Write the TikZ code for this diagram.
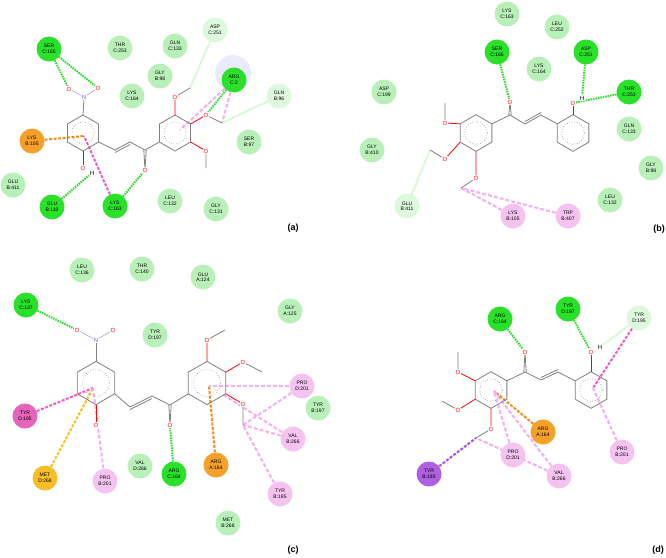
\documentclass[tikz,border=0pt]{standalone}
\usepackage{fontspec}
\setmainfont{Liberation Sans}
\pgfdeclarelayer{bg}
\pgfsetlayers{bg,main}
\begin{document}
\begin{tikzpicture}[x=1pt,y=-1pt,
 res/.style={circle,minimum size=25pt,inner sep=0pt,align=center,font=\fontsize{5}{5.5}\selectfont},
 dg/.style={res,fill={rgb,255:red,40;green,225;blue,40}},
 lg/.style={res,fill={rgb,255:red,185;green,240;blue,185}},
 pg/.style={res,fill={rgb,255:red,222;green,248;blue,222}},
 og/.style={res,fill={rgb,255:red,245;green,160;blue,40}},
 pk/.style={res,fill={rgb,255:red,245;green,195;blue,240}},
 mg/.style={res,fill={rgb,255:red,230;green,100;blue,185}},
 yl/.style={res,fill={rgb,255:red,245;green,190;blue,40}},
 pu/.style={res,fill={rgb,255:red,175;green,95;blue,225}},
 bond/.style={draw=gray,line width=0.8pt},
 obond/.style={draw=red,line width=0.8pt},
 arom/.style={draw=gray,dotted,line width=0.6pt},
 cg/.style={draw={rgb,255:red,40;green,220;blue,40},line width=2pt,dash pattern=on 1.5pt off 1pt},
 cpg/.style={draw={rgb,255:red,200;green,245;blue,200},line width=2pt,dash pattern=on 1.5pt off 1pt},
 cp/.style={draw={rgb,255:red,245;green,175;blue,240},line width=2pt,dash pattern=on 4pt off 2pt},
 cmg/.style={draw={rgb,255:red,240;green,90;blue,200},line width=2pt,dash pattern=on 3pt off 1.5pt},
 co/.style={draw={rgb,255:red,245;green,140;blue,20},line width=2pt,dash pattern=on 3pt off 1.5pt},
 cy/.style={draw={rgb,255:red,250;green,190;blue,30},line width=2pt,dash pattern=on 3pt off 1.5pt},
 cpu/.style={draw={rgb,255:red,170;green,80;blue,225},line width=2pt,dash pattern=on 3pt off 1.5pt},
 atm/.style={font=\fontsize{6}{6}\selectfont,inner sep=0.5pt,fill=white},
 lab/.style={font=\bfseries\fontsize{9}{9}\selectfont}]
\useasboundingbox (0,0) rectangle (666,557);
\newcommand\hexring[3]{%
 \draw[bond] (#1)++(-90:#2) coordinate(#3t) -- ++(30:#2) coordinate(#3ur) -- ++(90:#2) coordinate(#3lr) -- ++(150:#2) coordinate(#3b) -- ++(-150:#2) coordinate(#3ll) -- ++(-90:#2) coordinate(#3ul) -- cycle;
 \draw[arom] (#1) circle (#2*0.62);}
%%%%%%%%%%%%%%%% (a)
\begin{pgfonlayer}{bg}\fill[blue!8] (233,73) circle (18);\end{pgfonlayer}
\coordinate (aA) at (83,133);
\coordinate (aB) at (175,133);
\hexring{aA}{18}{aA}
\hexring{aB}{18}{aB}
\node[atm,text=blue!60] (aN) at (84,97) {N};
\node[atm,text=red] (aO1) at (69,89) {O};
\node[atm,text=red] (aO2) at (98,88) {O};
\draw[bond] (aAt) -- (aN); \draw[draw=blue!50] (aN)--(aO1) (aN)--(aO2);
\node[atm,text=red] (aOH) at (83,168) {O};
\node[atm] (aH) at (92,173) {H};
\draw[obond] (aAb) -- (aOH);
\coordinate (ac1) at (115,150); \coordinate (ac2) at (130,142); \coordinate (ac3) at (145,150);
\draw[bond] (aAlr)--(ac1)--(ac2)--(ac3)--(aBll);
\draw[bond] ([yshift=-2.5pt]ac1)--([yshift=-2.5pt]ac2);
\node[atm,text=red] (aOc) at (145,170) {O};
\draw[bond] ([xshift=-1.2pt]ac3)--([xshift=-1.2pt]aOc) ([xshift=1.2pt]ac3)--([xshift=1.2pt]aOc);
\node[atm,text=red] (aO3) at (175,97) {O}; \coordinate (aM3) at (190,88);
\node[atm,text=red] (aO4) at (206,115) {O}; \coordinate (aM4) at (222,123);
\node[atm,text=red] (aO5) at (206,151) {O}; \coordinate (aM5) at (206,168);
\draw[obond] (aBt)--(aO3) (aBur)--(aO4) (aBlr)--(aO5);
\draw[bond] (aO3)--(aM3) (aO4)--(aM4) (aO5)--(aM5);
\coordinate (aR1) at (84,136); \coordinate (aR2) at (180,130);
\node[dg] (a1) at (49,49) {SER\\C:165};
\node[lg] (a2) at (120,48) {THR\\C:253};
\node[lg] (a3) at (175,46) {GLN\\C:133};
\node[pg] (a4) at (215,30) {ASP\\C:251};
\node[lg] (a5) at (160,76) {GLY\\B:98};
\node[dg] (a6) at (234,80) {ARG\\C:2};
\node[lg] (a7) at (132,96) {LYS\\C:164};
\node[pg] (a8) at (279,96) {GLN\\B:96};
\node[lg] (a9) at (249,142) {SER\\B:97};
\node[og] (a10) at (32,141) {LYS\\B:105};
\node[lg] (a11) at (13,185) {GLU\\B:411};
\node[dg] (a12) at (52,207) {GLU\\B:110};
\node[dg] (a13) at (115,206) {LYS\\C:163};
\node[lg] (a14) at (170,201) {LEU\\C:132};
\node[lg] (a15) at (216,209) {GLY\\C:131};
\begin{pgfonlayer}{bg}
\draw[cg] (a1)--(aO1); \draw[cg] (a1)--(aO2);
\draw[co] (a10)--(aR1);
\draw[cmg] (a13)--(aR1);
\draw[cg] (a13)--(aOc);
\draw[cg] (a12)--(aH);
\draw[cpg] (a4)--(aM3);
\draw[cg] (a6)--(aO4);
\draw[cp] (a6)--(aR2); \draw[cp] (a6)--(aM4);
\draw[cpg] (a8)--(aM4);
\end{pgfonlayer}
\node[lab] at (293,228) {(a)};
%%%%%%%%%%%%%%%% (b)
\coordinate (bA) at (476,133);
\coordinate (bB) at (573,133);
\hexring{bA}{18.3}{bA}
\hexring{bB}{18.3}{bB}
\node[atm,text=red] (bO1) at (445,123) {O}; \coordinate (bM1) at (445,103);
\node[atm,text=red] (bO2) at (445,159) {O}; \coordinate (bM2) at (430,150);
\node[atm,text=red] (bO3) at (476,178) {O}; \coordinate (bM3) at (461,188);
\draw[obond] (bAul)--(bO1) (bAll)--(bO2) (bAb)--(bO3);
\draw[bond] (bO1)--(bM1) (bO2)--(bM2) (bO3)--(bM3);
\coordinate (bc1) at (510,115); \coordinate (bc2) at (525,124); \coordinate (bc3) at (541,115);
\draw[bond] (bAur)--(bc1)--(bc2)--(bc3)--(bBul);
\draw[bond] ([yshift=2.5pt]bc2)--([yshift=2.5pt]bc3);
\node[atm,text=red] (bOc) at (510,102) {O};
\draw[bond] ([xshift=-1.2pt]bc1)--([xshift=-1.2pt]bOc) ([xshift=1.2pt]bc1)--([xshift=1.2pt]bOc);
\node[atm,text=red] (bOH) at (573,103) {O};
\node[atm] (bH) at (582,98) {H};
\draw[obond] (bBt)--(bOH);
\node[lg] (b1) at (507,14) {LYS\\C:163};
\node[lg] (b2) at (557,27) {LEU\\C:252};
\node[dg] (b3) at (497,52) {SER\\C:165};
\node[dg] (b4) at (586,52) {ASP\\C:251};
\node[lg] (b5) at (539,69) {LYS\\C:164};
\node[lg] (b6) at (384,92) {ASP\\C:199};
\node[dg] (b7) at (629,92) {THR\\C:253};
\node[lg] (b8) at (629,129) {GLN\\C:133};
\node[lg] (b9) at (372,150) {GLY\\B:410};
\node[lg] (b10) at (651,168) {GLY\\B:98};
\node[lg] (b11) at (610,200) {LEU\\C:132};
\node[pg] (b12) at (407,206) {GLU\\B:411};
\node[pk] (b13) at (513,216) {LYS\\B:105};
\node[pk] (b14) at (568,216) {TRP\\B:407};
\begin{pgfonlayer}{bg}
\draw[cg] (b3)--(bOc);
\draw[cg] (b4)--(bH);
\draw[cg] (b7)--(bOH);
\draw[cpg] (b12)--(bM2);
\draw[cp] (b13)--(bM3); \draw[cp] (b14)--(bM3);
\end{pgfonlayer}
\node[lab] at (659,229) {(b)};
%%%%%%%%%%%%%%%% (c)
\coordinate (cA) at (96,383);
\coordinate (cB) at (207,383);
\hexring{cA}{21.6}{cA}
\hexring{cB}{21.6}{cB}
\node[atm,text=blue!60] (cN) at (96,340) {N};
\node[atm,text=red] (cO1) at (77,330) {O};
\node[atm,text=red] (cO2) at (113,330) {O};
\draw[bond] (cAt)--(cN); \draw[draw=blue!50] (cN)--(cO1) (cN)--(cO2);
\node[atm,text=red] (cOH) at (96,425) {O};
\draw[obond] (cAb)--(cOH);
\coordinate (cc1) at (130,407); \coordinate (cc2) at (152,396); \coordinate (cc3) at (170,405);
\draw[bond] (cAlr)--(cc1)--(cc2)--(cc3)--(cBll);
\draw[bond] ([yshift=-2.5pt]cc1)--([yshift=-2.5pt]cc2);
\node[atm,text=red] (cOc) at (170,425) {O};
\draw[bond] ([xshift=-1.2pt]cc3)--([xshift=-1.2pt]cOc) ([xshift=1.2pt]cc3)--([xshift=1.2pt]cOc);
\node[atm,text=red] (cO3) at (207,340) {O}; \coordinate (cM3) at (225,330);
\node[atm,text=red] (cO4) at (243,362) {O}; \coordinate (cM4) at (262,372);
\node[atm,text=red] (cO5) at (243,404) {O}; \coordinate (cM5) at (243,425);
\draw[obond] (cBt)--(cO3) (cBur)--(cO4) (cBlr)--(cO5);
\draw[bond] (cO3)--(cM3) (cO4)--(cM4) (cO5)--(cM5);
\coordinate (cR1) at (93,388); \coordinate (cR2) at (209,386); \coordinate (cR3) at (222,394);
\node[lg] (c1) at (82,270) {LEU\\C:136};
\node[lg] (c2) at (142,269) {THR\\C:140};
\node[lg] (c3) at (203,277) {GLU\\A:124};
\node[dg] (c4) at (26,305) {LYS\\C:137};
\node[lg] (c5) at (290,311) {GLY\\A:125};
\node[lg] (c6) at (155,335) {TYR\\D:197};
\node[lg] (c7) at (318,408) {TYR\\B:197};
\node[pk] (c8) at (302,386) {PRO\\D:201};
\node[mg] (c9) at (25,416) {TYR\\D:195};
\node[pk] (c10) at (293,439) {VAL\\B:266};
\node[lg] (c11) at (140,466) {VAL\\D:266};
\node[dg] (c12) at (174,474) {ARG\\C:164};
\node[og] (c13) at (216,465) {ARG\\A:164};
\node[yl] (c14) at (45,478) {MET\\D:268};
\node[pk] (c15) at (105,481) {PRO\\B:201};
\node[pk] (c16) at (280,494) {TYR\\B:195};
\node[lg] (c17) at (228,523) {MET\\B:268};
\begin{pgfonlayer}{bg}
\draw[cg] (c4)--(cO1);
\draw[cmg] (c9)--(cR1);
\draw[cy] (c14)--(cR1);
\draw[cp] (c15)--(cR1);
\draw[cg] (c12)--(cOc);
\draw[co] (c13)--(cR2);
\draw[cp] (c8)--(cR2); \draw[cp] (c8)--(cM5);
\draw[cp] (c10)--(cR3); \draw[cp] (c10)--(cM5);
\draw[cp] (c16)--(cM5);
\end{pgfonlayer}
\node[lab] at (293,550) {(c)};
%%%%%%%%%%%%%%%% (d)
\coordinate (dA) at (491,390);
\coordinate (dB) at (591,390);
\hexring{dA}{18.3}{dA}
\hexring{dB}{18.3}{dB}
\node[atm,text=red] (dO1) at (458,372) {O}; \coordinate (dM1) at (458,352);
\node[atm,text=red] (dO2) at (458,410) {O}; \coordinate (dM2) at (442,401);
\node[atm,text=red] (dO3) at (491,429) {O}; \coordinate (dM3) at (476,438);
\draw[obond] (dAul)--(dO1) (dAll)--(dO2) (dAb)--(dO3);
\draw[bond] (dO1)--(dM1) (dO2)--(dM2) (dO3)--(dM3);
\coordinate (dc1) at (525,372); \coordinate (dc2) at (541,380); \coordinate (dc3) at (558,372);
\draw[bond] (dAur)--(dc1)--(dc2)--(dc3)--(dBul);
\draw[bond] ([yshift=2.5pt]dc2)--([yshift=2.5pt]dc3);
\node[atm,text=red] (dOc) at (525,352) {O};
\draw[bond] ([xshift=-1.2pt]dc1)--([xshift=-1.2pt]dOc) ([xshift=1.2pt]dc1)--([xshift=1.2pt]dOc);
\node[atm,text=red] (dOH) at (591,352) {O};
\node[atm] (dH) at (600,347) {H};
\draw[obond] (dBt)--(dOH);
\coordinate (dR1) at (494,391); \coordinate (dR2) at (593,388);
\node[dg] (d1) at (500,319) {ARG\\C:164};
\node[dg] (d2) at (568,309) {TYR\\D:197};
\node[pg] (d3) at (639,318) {TYR\\D:195};
\node[og] (d4) at (543,432) {ARG\\A:164};
\node[pk] (d5) at (622,452) {PRO\\B:201};
\node[pk] (d6) at (513,455) {PRO\\D:201};
\node[pk] (d7) at (559,476) {VAL\\B:266};
\node[pu] (d8) at (429,474) {TYR\\B:195};
\begin{pgfonlayer}{bg}
\draw[cg] (d1)--(dOc);
\draw[cg] (d2)--(dOH);
\draw[cpg] (d3)--(dH);
\draw[cmg] (d3)--(dR2);
\draw[co] (d4)--(dR1);
\draw[cp] (d6)--(dR1);
\draw[cp] (d7)--(dR1); \draw[cp] (d7)--(dM3);
\draw[cpu] (d8)--(dM3);
\draw[cp] (d5)--(dR2);
\end{pgfonlayer}
\node[lab] at (658,550) {(d)};
\end{tikzpicture}
\end{document}
